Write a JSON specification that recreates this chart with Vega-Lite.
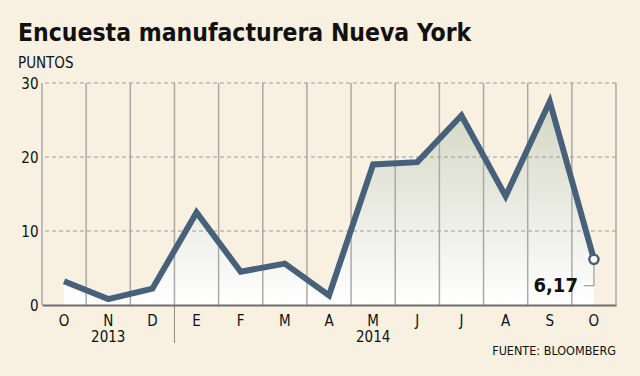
{
  "$schema": "https://vega.github.io/schema/vega-lite/v6.json",
  "width": 574,
  "height": 222,
  "autosize": {"type": "none"},
  "padding": {"left": 42, "top": 83, "right": 24, "bottom": 71},
  "background": "#f8f0e1",
  "title": {
    "text": "Encuesta manufacturera Nueva York",
    "subtitle": "PUNTOS",
    "anchor": "start",
    "frame": "group",
    "dx": -24,
    "offset": 4,
    "font": "DejaVu Sans Condensed",
    "fontSize": 24.5,
    "fontWeight": "bold",
    "color": "#111111",
    "subtitleFont": "DejaVu Sans Condensed",
    "subtitleFontSize": 15,
    "subtitleColor": "#111111",
    "subtitlePadding": 10
  },
  "config": {
    "view": {"stroke": null},
    "font": "DejaVu Sans Condensed"
  },
  "data": {
    "values": [
      {"m": "O13", "v": 3.2},
      {"m": "N13", "v": 0.8},
      {"m": "D13", "v": 2.2},
      {"m": "E14", "v": 12.5},
      {"m": "F14", "v": 4.5},
      {"m": "M14", "v": 5.6},
      {"m": "A14", "v": 1.3},
      {"m": "My14", "v": 19.0},
      {"m": "J14", "v": 19.3},
      {"m": "Jl14", "v": 25.6},
      {"m": "Ag14", "v": 14.7},
      {"m": "S14", "v": 27.5},
      {"m": "O14", "v": 6.17}
    ]
  },
  "encoding": {
    "x": {
      "field": "m",
      "type": "nominal",
      "sort": null,
      "scale": {"paddingInner": 0, "paddingOuter": 0},
      "axis": {
        "title": null,
        "labelExpr": "substring(datum.value,0,1)",
        "labelAngle": 0,
        "labelFont": "DejaVu Sans Condensed",
        "labelFontSize": 15,
        "labelColor": "#111111",
        "labelPadding": 8,
        "ticks": false,
        "grid": false,
        "domainColor": "#6e6e6e",
        "domainWidth": 2,
        "zindex": 1
      }
    },
    "y": {
      "field": "v",
      "type": "quantitative",
      "scale": {"domain": [0, 30]},
      "axis": {
        "title": null,
        "values": [0, 10, 20, 30],
        "labelFont": "DejaVu Sans Condensed",
        "labelFontSize": 15,
        "labelColor": "#111111",
        "labelPadding": 4,
        "ticks": false,
        "grid": false,
        "domain": false
      }
    }
  },
  "layer": [
    {
      "mark": {
        "type": "area",
        "color": {
          "gradient": "linear",
          "x1": 0, "y1": 0, "x2": 0, "y2": 1,
          "stops": [
            {"offset": 0, "color": "#d3d6c3"},
            {"offset": 1, "color": "#ffffff"}
          ]
        }
      }
    },
    {
      "mark": {"type": "rule", "color": "#a9a9a9", "strokeWidth": 1.5},
      "encoding": {
        "x": {"field": "m", "type": "nominal", "sort": null, "bandPosition": 0},
        "y": null
      }
    },
    {
      "transform": [{"filter": "datum.m == 'O14'"}],
      "mark": {"type": "rule", "color": "#a9a9a9", "strokeWidth": 1.5},
      "encoding": {
        "x": {"field": "m", "type": "nominal", "sort": null, "bandPosition": 1},
        "y": null
      }
    },
    {
      "data": {"values": [{"g": 10}, {"g": 20}, {"g": 30}]},
      "mark": {"type": "rule", "color": "#9a9a9a", "strokeWidth": 1, "strokeDash": [4, 3]},
      "encoding": {
        "x": null,
        "y": {"field": "g", "type": "quantitative"}
      }
    },
    {
      "data": {"values": [{"m": "E14", "z": 0}]},
      "mark": {"type": "rule", "color": "#8a8a8a", "strokeWidth": 1, "y2Offset": 38},
      "encoding": {
        "x": {"field": "m", "type": "nominal", "sort": null, "bandPosition": 0},
        "y": {"field": "z", "type": "quantitative"},
        "y2": {"field": "z"}
      }
    },
    {
      "data": {"values": [{"m": "O14", "v": 6.17, "lo": 2.6}]},
      "layer": [
        {
          "mark": {"type": "rule", "color": "#8a8a8a", "strokeWidth": 1},
          "encoding": {
            "y2": {"field": "lo"}
          }
        },
        {
          "mark": {"type": "rule", "color": "#8a8a8a", "strokeWidth": 1, "x2Offset": -10},
          "encoding": {
            "x2": {"field": "m"},
            "y": {"field": "lo", "type": "quantitative"}
          }
        }
      ]
    },
    {
      "mark": {"type": "line", "color": "#48617a", "strokeWidth": 6, "strokeJoin": "miter", "strokeCap": "butt"}
    },
    {
      "transform": [{"filter": "datum.m == 'O14'"}],
      "mark": {"type": "point", "shape": "circle", "filled": true, "fill": "#ffffff", "stroke": "#48617a", "strokeWidth": 2.5, "size": 85, "opacity": 1}
    },
    {
      "data": {"values": [{"m": "O14", "lo": 2.6, "lbl": "6,17"}]},
      "mark": {"type": "text", "align": "right", "baseline": "middle", "dx": -16, "fontSize": 20, "fontWeight": "bold", "font": "DejaVu Sans Condensed", "color": "#111111"},
      "encoding": {
        "y": {"field": "lo", "type": "quantitative"},
        "text": {"field": "lbl"}
      }
    },
    {
      "data": {"values": [{"m": "N13", "z": 0, "t": "2013"}, {"m": "My14", "z": 0, "t": "2014"}]},
      "mark": {"type": "text", "baseline": "middle", "dy": 32, "fontSize": 15, "font": "DejaVu Sans Condensed", "color": "#111111"},
      "encoding": {
        "y": {"field": "z", "type": "quantitative"},
        "text": {"field": "t"}
      }
    },
    {
      "data": {"values": [{"m": "O14", "z": 0, "t": "FUENTE: BLOOMBERG"}]},
      "mark": {"type": "text", "align": "right", "baseline": "middle", "dy": 46, "fontSize": 12.5, "font": "DejaVu Sans Condensed", "color": "#111111"},
      "encoding": {
        "x": {"field": "m", "type": "nominal", "sort": null, "bandPosition": 1},
        "y": {"field": "z", "type": "quantitative"},
        "text": {"field": "t"}
      }
    }
  ]
}
